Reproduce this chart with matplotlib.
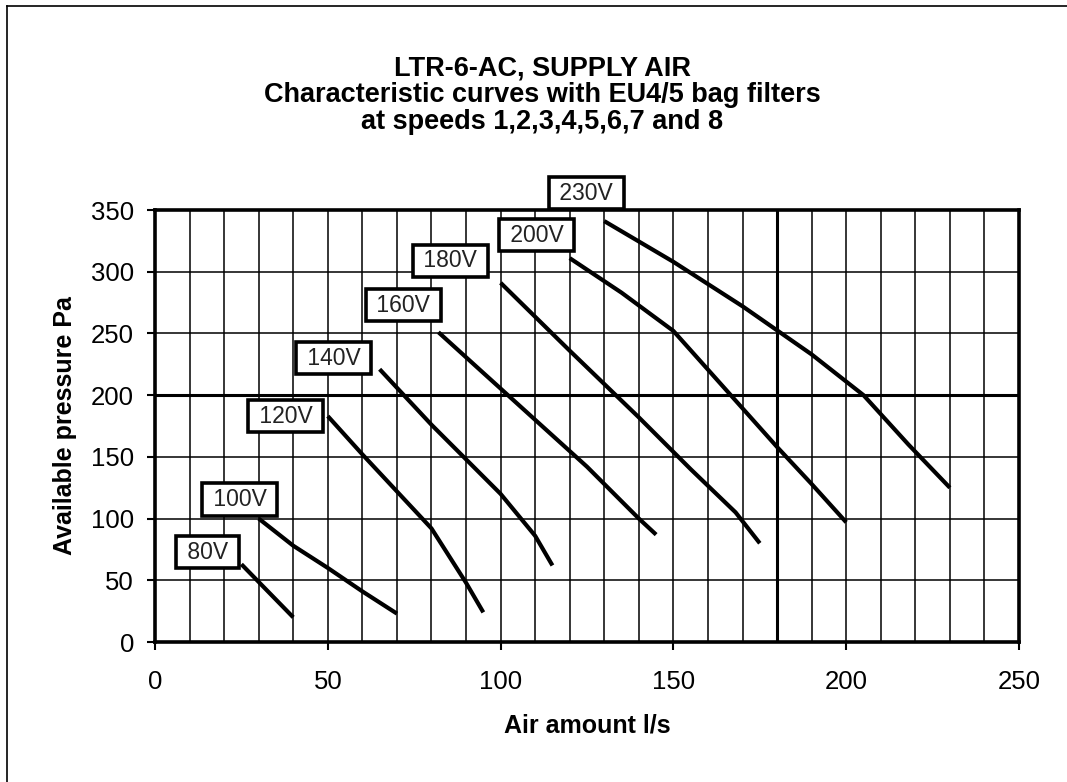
import numpy as np
import matplotlib
matplotlib.use("Agg")
import matplotlib.pyplot as plt
from matplotlib.lines import Line2D
from matplotlib.ticker import MultipleLocator

plt.rcParams['font.family'] = ['Liberation Sans', 'DejaVu Sans']

# Kennlinien, gelesen aus dem Bild (Luftmenge l/s, Druck Pa)
speeds = ['80V', '100V', '120V', '140V', '160V', '180V', '200V', '230V']
air_80 = [25, 40]
pa_80 = [63, 20]
air_100 = [30, 40, 50, 60, 70]
pa_100 = [100, 78, 60, 41, 23]
air_120 = [50, 60, 70, 80, 90, 95]
pa_120 = [183, 152, 122, 92, 48, 24]
air_140 = [65, 80, 90, 100, 110, 115]
pa_140 = [221, 176, 148, 120, 86, 62]
air_160 = [82, 95, 110, 125, 140, 145]
pa_160 = [251, 218, 180, 142, 100, 87]
air_180 = [100, 120, 140, 155, 168, 175]
pa_180 = [291, 236, 182, 140, 105, 80]
air_200 = [120, 135, 150, 165, 180, 190, 200]
pa_200 = [311, 283, 252, 205, 158, 128, 97]
air_230 = [130, 150, 170, 190, 205, 218, 230]
pa_230 = [341, 308, 272, 233, 200, 160, 125]

curves = [(air_80, pa_80), (air_100, pa_100), (air_120, pa_120), (air_140, pa_140),
          (air_160, pa_160), (air_180, pa_180), (air_200, pa_200), (air_230, pa_230)]

# Versatz der Beschriftung zum Kurvenanfang (Pixel)
label_offsets = [(-34, 12), (-19, 19), (-42, 0), (-46, 11),
                 (-35, 27), (-50, 22), (-33, 23), (-18, 28)]

title_lines = ['LTR-6-AC, SUPPLY AIR',
               'Characteristic curves with EU4/5 bag filters',
               'at speeds 1,2,3,4,5,6,7 and 8']

W, H = 1067, 782
fig = plt.figure(figsize=(W / 100, H / 100), dpi=100)
ax = fig.add_axes([155 / W, 1 - 642 / H, (1019 - 155) / W, (642 - 210) / H])

# Gitter
ax.set_xlim(0, 250)
ax.set_ylim(0, 350)
ax.xaxis.set_major_locator(MultipleLocator(50))
ax.xaxis.set_minor_locator(MultipleLocator(10))
ax.yaxis.set_major_locator(MultipleLocator(50))
ax.grid(True, which='both', color='black', lw=1.1)
ax.axvline(180, color='black', lw=2.2)
ax.axhline(200, color='black', lw=2.2)
ax.set_axisbelow(True)

for (xs, ys), name, off in zip(curves, speeds, label_offsets):
    ax.plot(xs, ys, color='black', lw=3, solid_capstyle='butt', solid_joinstyle='round')
    ax.annotate(' ' + name + ' ', xy=(xs[0], ys[0]), xytext=off, textcoords='offset pixels',
                ha='center', va='center', fontsize=16.5, color='#222222',
                bbox=dict(boxstyle='square,pad=0.2', fc='white', ec='black', lw=2.6))

for s in ax.spines.values():
    s.set_linewidth(2.6)

ax.tick_params(which='major', direction='out', length=6, width=1.5, labelsize=18.5, pad=9)
ax.tick_params(axis='x', which='major', pad=14.5)
ax.tick_params(which='minor', length=0)

ax.set_xlabel('Air amount l/s', fontsize=18, fontweight='bold', labelpad=14)
ax.set_ylabel('Available pressure Pa', fontsize=18, fontweight='bold', labelpad=10)

for line, base in zip(title_lines, [76, 102, 129]):
    fig.text(542.5 / W, 1 - base / H, line, ha='center', va='baseline',
             fontsize=19.5, fontweight='bold')

# Rahmen (nur links und oben sichtbar)
fig.add_artist(Line2D([7 / W, 7 / W], [0, 1 - 6 / H], color='black', lw=1.2))
fig.add_artist(Line2D([7 / W, 1], [1 - 6 / H, 1 - 6 / H], color='black', lw=1.2))

fig.savefig('out.png', dpi=100)
